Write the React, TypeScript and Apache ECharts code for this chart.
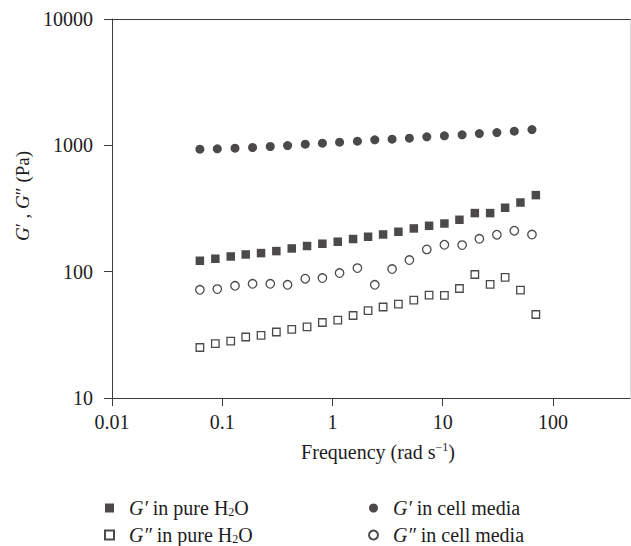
import React, { useEffect, useRef } from 'react';
import * as echarts from 'echarts';

// Frequencies (rad/s)
const FREQ_CELL = [0.0627, 0.0902, 0.1306, 0.1884, 0.2726, 0.3915, 0.5664, 0.81, 1.16, 1.683, 2.42, 3.474, 4.987, 7.172, 10.36, 15.0, 21.5, 31.0, 44.6, 64.5];
const FREQ_H2O = [0.0627, 0.0866, 0.1194, 0.1633, 0.2249, 0.3097, 0.4272, 0.5881, 0.8097, 1.117, 1.538, 2.104, 2.879, 3.963, 5.467, 7.524, 10.36, 14.18, 19.56, 26.93, 36.83, 50.72, 69.96];

// Moduli (Pa)
const G1_H2O = [122, 126.6, 131.9, 136.8, 140.3, 145.5, 152.7, 159.6, 166.4, 172.6, 181.3, 189, 197, 207, 219.9, 230.7, 240.6, 257.5, 290.9, 290.9, 320.5, 352.7, 403.6];
const G2_H2O = [25.1, 26.9, 28.2, 30.4, 31.3, 33.3, 34.9, 36.6, 39.6, 41.4, 45, 49.1, 52.5, 55.4, 59.6, 65.3, 64.8, 73.6, 95, 79.2, 90, 71.5, 45.8];
const G1_CELL = [933, 938, 950, 961, 979, 996, 1021, 1040, 1059, 1079, 1105, 1119, 1140, 1167, 1189, 1211, 1240, 1262, 1294, 1333];
const G2_CELL = [71.9, 72.8, 77.3, 80.2, 80.2, 78.7, 87.9, 89, 97.5, 106.7, 78.7, 104.9, 123.6, 150, 163.3, 162.3, 182, 196, 210.8, 196.8];

const X_TICKS = [0.01, 0.1, 1, 10, 100];
const Y_TICKS = [10, 100, 1000, 10000];

const NAMES = ['G′ in pure H2O', 'G″ in pure H2O', 'G′ in cell media', 'G″ in cell media'];
const RICH_NAMES: Record<string, string> = {
  'G′ in pure H2O': '{f|G′} in pure H{s|2}O',
  'G″ in pure H2O': '{f|G″} in pure H{s|2}O',
  'G′ in cell media': '{f|G′} in cell media',
  'G″ in cell media': '{f|G″} in cell media',
};

const FONT = '"Liberation Serif", "DejaVu Serif", serif';
const INK = '#1e1c1d';
const AXIS = '#3c3c3c';
const FS = 20;

function pairs(xs: number[], ys: number[]) {
  return xs.map((x, i) => [x, ys[i]]);
}

function fmtPow(v: number) {
  const l = Math.log10(v);
  const e = Math.round(l);
  if (Math.abs(l - e) > 1e-6) return '';
  return e < 0 ? Math.pow(10, e).toFixed(-e) : String(Math.round(Math.pow(10, e)));
}

export default function App() {
  const ref = useRef<HTMLDivElement>(null);
  useEffect(() => {
    if (!ref.current) return;
    const chart = echarts.init(ref.current, undefined, { renderer: 'svg' });
    const legendText = {
      fontFamily: FONT,
      fontSize: FS,
      color: INK,
      rich: {
        f: { fontFamily: FONT, fontSize: FS, fontStyle: 'italic', color: INK, padding: [0, 0, 0, 10] },
        s: { fontFamily: FONT, fontSize: 12, color: INK, padding: [7, 0, 0, 0] },
      },
    };
    const filled = { color: INK };
    const open = { color: '#ffffff', borderColor: INK, borderWidth: 1.3 };
    const legendBase = {
      orient: 'vertical',
      top: 498,
      height: 120,
      width: 200,
      itemWidth: 9,
      itemHeight: 9,
      itemGap: 7,
      padding: 0,
      formatter: (n: string) => RICH_NAMES[n],
      textStyle: legendText,
      selectedMode: false,
    };
    chart.setOption({
      animation: false,
      backgroundColor: '#ffffff',
      grid: { left: 112, top: 19, right: 1, bottom: 148 },
      xAxis: [
        {
          type: 'log',
          logBase: 10,
          min: 0.01,
          max: 500,
          interval: 1,
          name: '{n|Frequency (rad s}{sup|−1}{n|)}',
          nameLocation: 'middle',
          nameGap: 43,
          nameTextStyle: {
            fontFamily: FONT,
            fontSize: FS,
            color: INK,
            padding: [0, 0, 0, 14],
            rich: {
              n: { fontFamily: FONT, fontSize: FS, color: INK },
              sup: { fontFamily: FONT, fontSize: 12, color: INK, padding: [0, 0, 10, 0] },
            },
          },
          axisLine: { show: true, onZero: false, lineStyle: { color: AXIS, width: 1 } },
          axisTick: { show: true, inside: false, length: 8, customValues: X_TICKS, lineStyle: { color: AXIS } },
          axisLabel: { customValues: X_TICKS, formatter: (v: number) => fmtPow(v), fontFamily: FONT, fontSize: FS, color: INK, margin: 14 },
          splitLine: { show: false },
          minorTick: { show: false },
        },
        {
          type: 'log',
          logBase: 10,
          min: 0.01,
          max: 500,
          position: 'top',
          axisLine: { show: true, onZero: false, lineStyle: { color: AXIS, width: 1 } },
          axisTick: { show: false },
          axisLabel: { show: false },
          splitLine: { show: false },
        },
      ],
      yAxis: [
        {
          type: 'log',
          logBase: 10,
          min: 10,
          max: 10000,
          interval: 1,
          name: '{i|G}′ , {i|G}″ (Pa)',
          nameLocation: 'middle',
          nameGap: 78,
          nameTextStyle: {
            fontFamily: FONT,
            fontSize: 19,
            color: INK,
            padding: [0, 0, 0, 25],
            rich: {
              i: { fontFamily: FONT, fontSize: 19, fontStyle: 'italic', color: INK },
            },
          },
          axisLine: { show: true, onZero: false, lineStyle: { color: AXIS, width: 1 } },
          axisTick: { show: true, inside: false, length: 8, customValues: Y_TICKS, lineStyle: { color: AXIS } },
          axisLabel: { customValues: Y_TICKS, formatter: (v: number) => fmtPow(v), fontFamily: FONT, fontSize: FS, color: INK, margin: 19 },
          splitLine: { show: false },
          minorTick: { show: false },
        },
        {
          type: 'log',
          logBase: 10,
          min: 10,
          max: 10000,
          position: 'right',
          axisLine: { show: true, onZero: false, lineStyle: { color: '#d8d8d8', width: 1 } },
          axisTick: { show: false },
          axisLabel: { show: false },
          splitLine: { show: false },
        },
      ],
      legend: [
        { ...legendBase, data: [NAMES[0], NAMES[1]], left: 104 },
        { ...legendBase, data: [NAMES[2], NAMES[3]], left: 368 },
      ],
      series: [
        { name: NAMES[0], type: 'scatter', symbol: 'rect', symbolSize: 8.5, itemStyle: filled, data: pairs(FREQ_H2O, G1_H2O) },
        { name: NAMES[1], type: 'scatter', symbol: 'rect', symbolSize: 7.5, itemStyle: open, data: pairs(FREQ_H2O, G2_H2O) },
        { name: NAMES[2], type: 'scatter', symbol: 'circle', symbolSize: 9, itemStyle: filled, data: pairs(FREQ_CELL, G1_CELL) },
        { name: NAMES[3], type: 'scatter', symbol: 'circle', symbolSize: 8.5, itemStyle: open, data: pairs(FREQ_CELL, G2_CELL) },
      ],
    });
    return () => chart.dispose();
  }, []);
  return <div ref={ref} style={{ position: 'fixed', left: 0, top: 0, width: 631, height: 546 }} />;
}
